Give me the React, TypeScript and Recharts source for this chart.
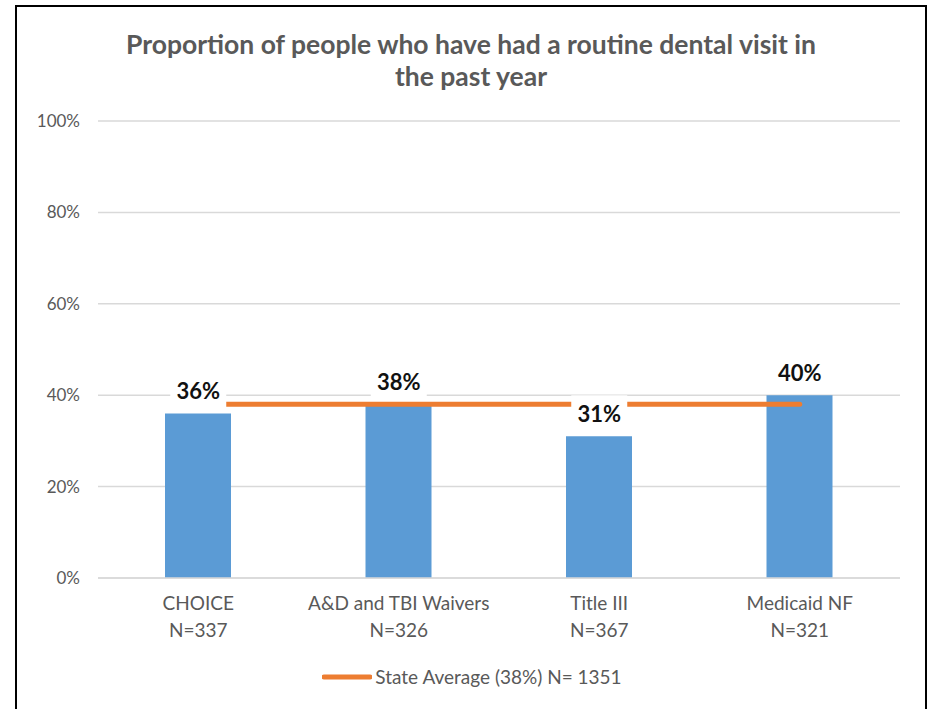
import React from 'react'
import {
  ComposedChart,
  Bar,
  Line,
  XAxis,
  YAxis,
  CartesianGrid,
  Legend,
  LabelList,
} from 'recharts'

const programs = ['CHOICE', 'A&D and TBI Waivers', 'Title III', 'Medicaid NF']
const sampleSizes = ['N=337', 'N=326', 'N=367', 'N=321']
const visitPct = [36, 38, 31, 40]
const stateAvg = [38, 38, 38, 38]
const yTicks = [0, 20, 40, 60, 80, 100]

const data = programs.map((name, i) => ({
  name,
  n: sampleSizes[i],
  pct: visitPct[i],
  avg: stateAvg[i],
}))

const FONT = 'Lato, "Open Sans", sans-serif'
const GREY = '#595959'

// two-line category tick: name + sample size
// eslint-disable-next-line @typescript-eslint/no-explicit-any
function ProgramTick({ x, y, payload, index }: any) {
  return (
    <g transform={`translate(${x},${y})`}>
      <text textAnchor="middle" fill={GREY} fontSize={19} fontFamily={FONT}>
        <tspan x={0} dy={24}>{payload.value}</tspan>
        <tspan x={0} dy={27}>{sampleSizes[index]}</tspan>
      </text>
    </g>
  )
}

// data label with a white box behind it, like Excel's label fill
// eslint-disable-next-line @typescript-eslint/no-explicit-any
function BoxLabel({ x, y, value }: any) {
  const cy = y - 23
  return (
    <g>
      <rect x={x - 28} y={cy - 18} width={56} height={35} fill="#fff" />
      <text
        x={x}
        y={cy}
        textAnchor="middle"
        dominantBaseline="central"
        fontSize={22}
        fontWeight={700}
        fontFamily={FONT}
        fill="#111"
      >
        {value}%
      </text>
    </g>
  )
}

function AvgLegend() {
  return (
    <div
      style={{
        display: 'flex',
        justifyContent: 'center',
        alignItems: 'center',
        fontFamily: FONT,
        fontSize: 19,
        color: GREY,
        paddingLeft: 8,
      }}
    >
      <svg width={50} height={10} style={{ marginRight: 3 }}>
        <line x1={2} y1={5} x2={48} y2={5} stroke="#ED7D31" strokeWidth={5} strokeLinecap="round" />
      </svg>
      <span>State Average (38%) N= 1351</span>
    </div>
  )
}

export default function App() {
  return (
    <div style={{ position: 'absolute', left: 0, top: 0, width: 936, height: 709, background: '#fff', overflow: 'hidden' }}>
      <div
        style={{
          position: 'absolute',
          left: 15,
          top: 5,
          width: 912,
          height: 740,
          border: '2px solid #000',
          boxSizing: 'border-box',
        }}
      />
      <div
        style={{
          position: 'absolute',
          left: 0,
          top: 28,
          width: 942,
          textAlign: 'center',
          fontFamily: FONT,
          fontWeight: 700,
          fontSize: 26.5,
          lineHeight: '32px',
          color: GREY,
        }}
      >
        Proportion of people who have had a routine dental visit in
        <br />
        the past year
      </div>
      <div style={{ position: 'absolute', left: 0, top: 0 }}>
        <ComposedChart
          width={936}
          height={709}
          data={data}
          margin={{ top: 121, right: 36, bottom: 48, left: 38 }}
        >
          <CartesianGrid vertical={false} stroke="#d9d9d9" strokeWidth={1.5} />
          <XAxis
            dataKey="name"
            height={60}
            axisLine={{ stroke: '#d9d9d9', strokeWidth: 1.5 }}
            tickLine={false}
            tick={<ProgramTick />}
            interval={0}
          />
          <YAxis
            width={60}
            domain={[0, 100]}
            ticks={yTicks}
            tickFormatter={(v) => `${v}%`}
            axisLine={false}
            tickLine={false}
            tickSize={0}
            tickMargin={18}
            tick={{ fill: GREY, fontSize: 17, fontFamily: FONT }}
          />
          <Bar dataKey="pct" fill="#5B9BD5" barSize={66} isAnimationActive={false} legendType="none" />
          <Line
            dataKey="avg"
            stroke="#ED7D31"
            strokeWidth={5}
            strokeLinecap="round"
            dot={false}
            activeDot={false}
            isAnimationActive={false}
          />
          {/* invisible carrier so the labels sit above the average line */}
          <Line
            dataKey="pct"
            stroke="none"
            dot={false}
            activeDot={false}
            legendType="none"
            isAnimationActive={false}
          >
            <LabelList dataKey="pct" content={<BoxLabel />} />
          </Line>
          <Legend
            layout="vertical"
            align="center"
            verticalAlign="bottom"
            wrapperStyle={{ top: 665, left: 0, width: 936 }}
            content={<AvgLegend />}
          />
        </ComposedChart>
      </div>
    </div>
  )
}
